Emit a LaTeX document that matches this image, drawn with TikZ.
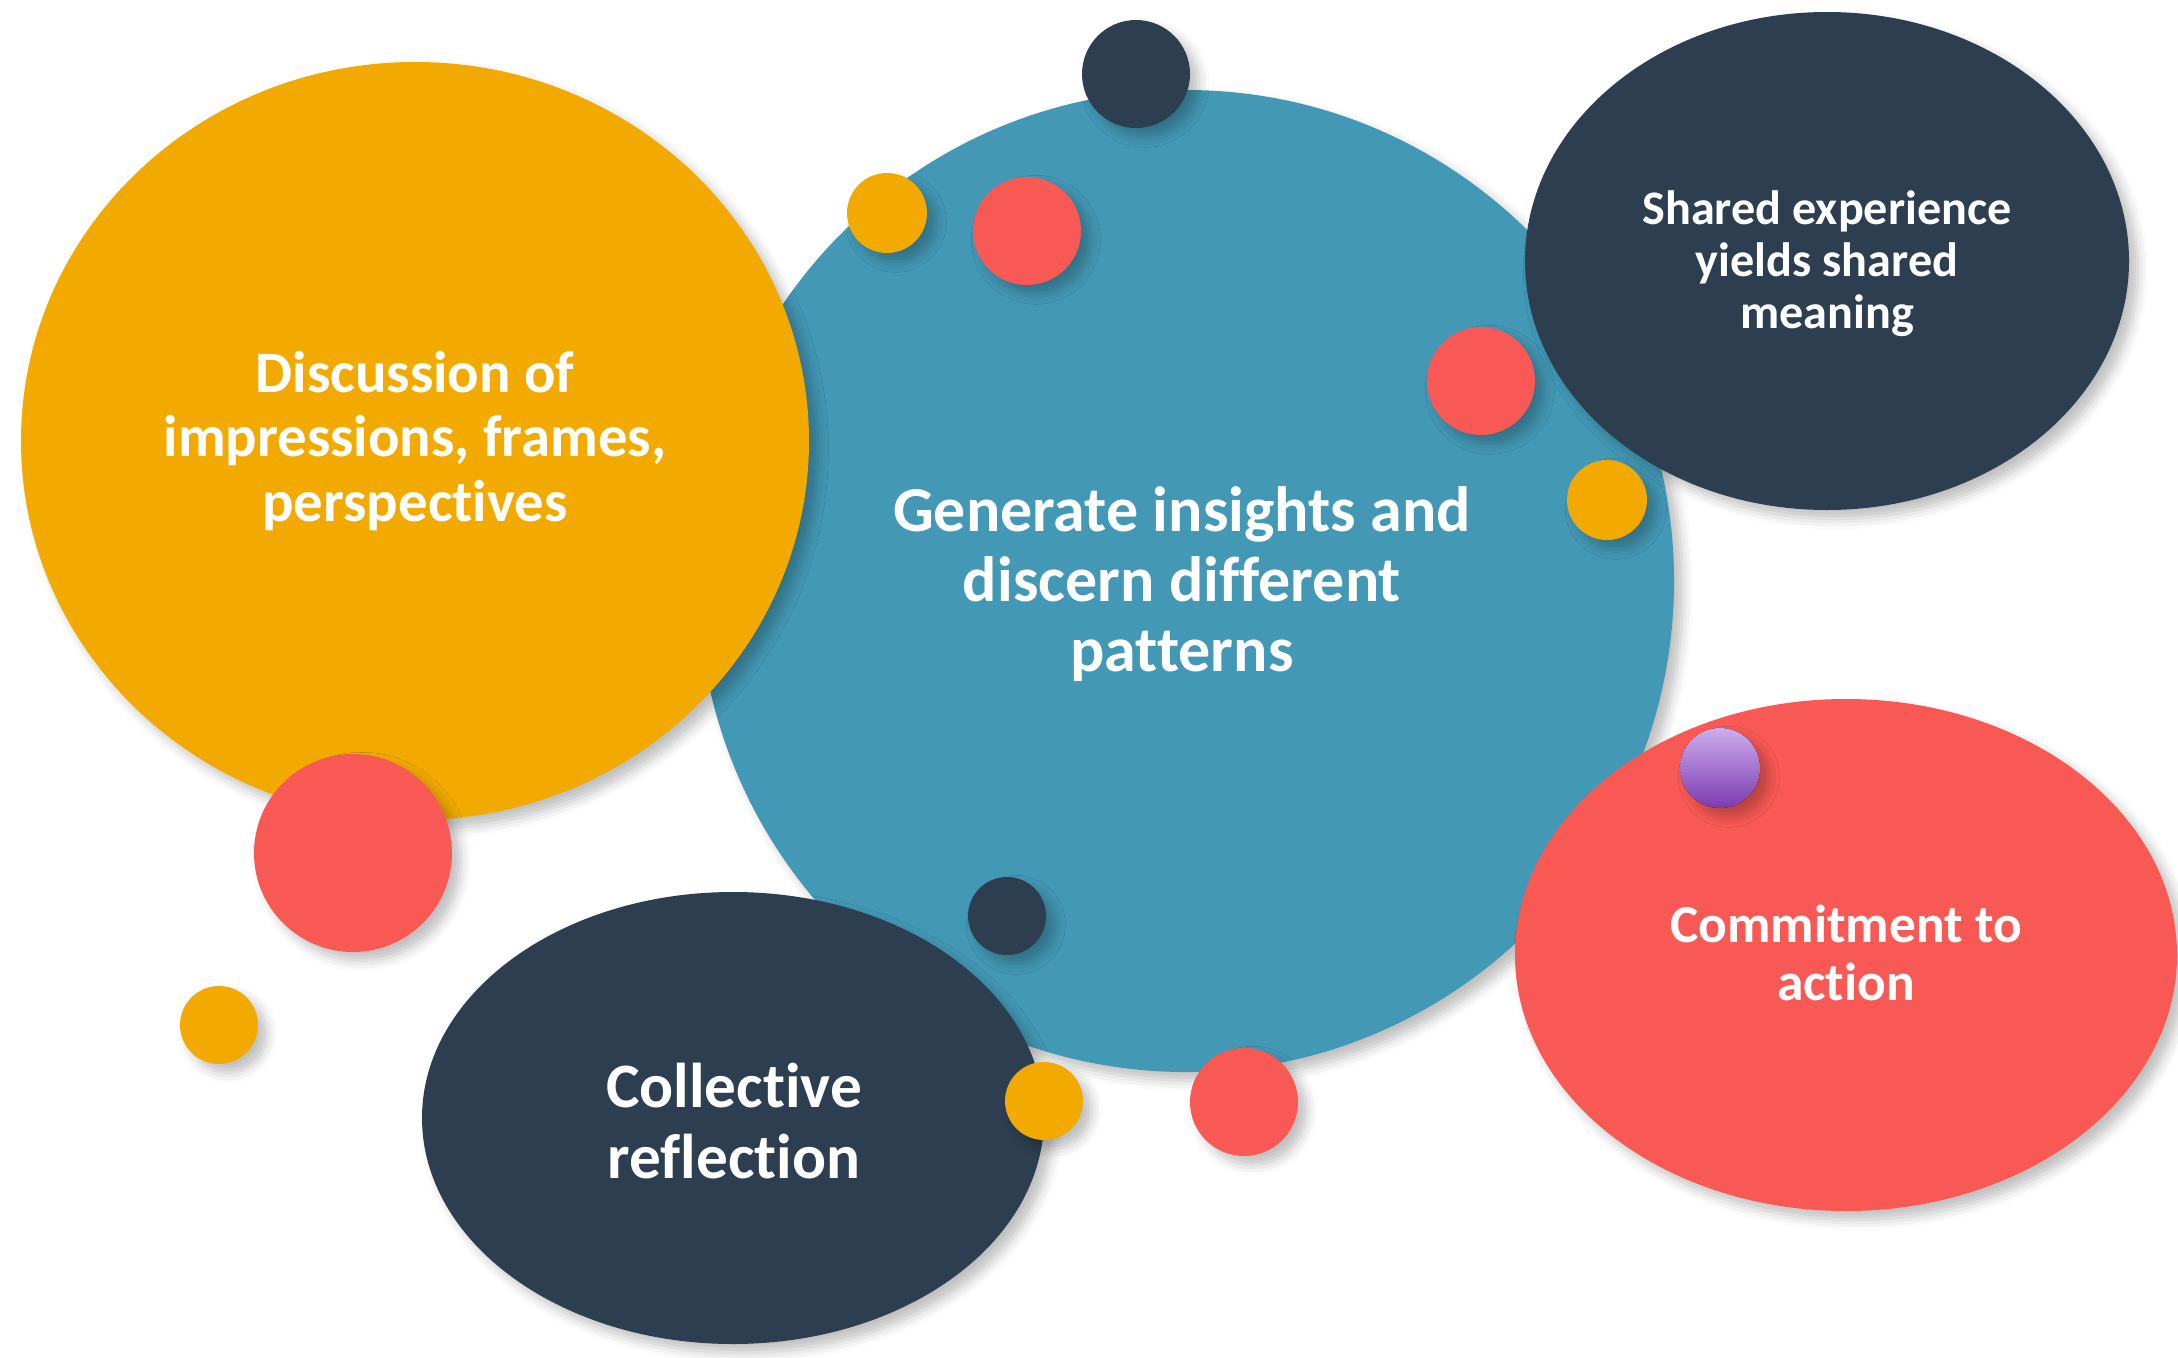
\documentclass[tikz,border=0pt]{standalone}
\usepackage{fontspec}
\setmainfont{Carlito}[Ligatures=NoCommon]
\usetikzlibrary{shadows.blur}
\definecolor{bubbleorange}{RGB}{242,170,0}
\definecolor{bubbleteal}{RGB}{67,152,181}
\definecolor{bubbledark}{RGB}{44,62,80}
\definecolor{bubblered}{RGB}{249,89,84}
\definecolor{pinlight}{RGB}{205,172,238}
\definecolor{pindark}{RGB}{124,60,176}
\begin{document}
\begin{tikzpicture}[x=0.01cm,y=-0.01cm,
	bubble/.style={blur shadow={shadow xshift=2.5pt,shadow yshift=-2.5pt,shadow blur radius=3pt,shadow opacity=25}},
	bubbletext/.style={text=white,align=center,font=\bfseries}]
	\useasboundingbox (0,0) rectangle (2178,1357);
	
	% big bubbles
	\fill[bubble,bubbleteal] (1186,581) ellipse [x radius=488,y radius=491];
	\fill[bubble,bubbleorange] (415,441) ellipse [x radius=394,y radius=379];
	\fill[bubble,bubbledark] (1827,261) ellipse [x radius=302,y radius=249];
	\fill[bubble,bubblered] (1846,955) ellipse [x radius=331,y radius=256];
	\fill[bubble,bubbledark] (733,1118) ellipse [x radius=311,y radius=226];
	
	% small bubbles
	\fill[bubble,bubblered] (353,853) circle [radius=99];
	\fill[bubble,bubbleorange] (219,1025) circle [radius=39];
	\fill[bubble,bubbledark] (1136,74) circle [radius=54];
	\fill[bubble,bubbleorange] (887,213) circle [radius=40];
	\fill[bubble,bubblered] (1027,231) circle [radius=54];
	\fill[bubble,bubblered] (1481,381) circle [radius=54];
	\fill[bubble,bubbleorange] (1607,500) circle [radius=40];
	\fill[bubble,bubbledark] (1007,916) circle [radius=39];
	\fill[bubble,bubbleorange] (1044,1101) circle [radius=39];
	\fill[bubble,bubblered] (1244,1102) circle [radius=54];
	\fill[bubble,top color=pinlight,bottom color=pindark] (1720,768) circle [radius=40];
	
	% texts
	\node[bubbletext,font=\bfseries\fontsize{16.7}{18.4}\selectfont] (discussion) at (415,441)
		{Discussion of\\impressions, frames,\\perspectives};
	\node[bubbletext,font=\bfseries\fontsize{18.2}{20}\selectfont] (insights) at (1182,584)
		{Generate insights and\\discern different\\patterns};
	\node[bubbletext,font=\bfseries\fontsize{13.7}{14.8}\selectfont] (shared) at (1827,264)
		{Shared experience\\yields shared\\meaning};
	\node[bubbletext,font=\bfseries\fontsize{15.2}{16.3}\selectfont] (commitment) at (1846,953)
		{Commitment to\\action};
	\node[bubbletext,font=\bfseries\fontsize{18}{20.2}\selectfont] (collective) at (734,1121)
		{Collective\\reflection};
\end{tikzpicture}
\end{document}
